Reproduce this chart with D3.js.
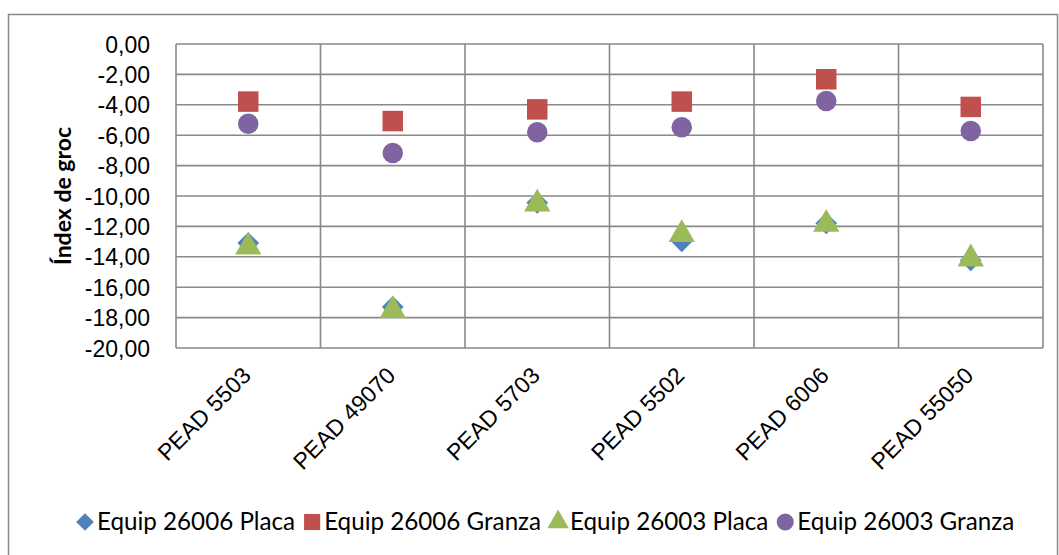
<!DOCTYPE html>
<html>
<head>
<meta charset="utf-8">
<script src="https://cdn.jsdelivr.net/npm/d3@7"></script>
<style>
  html, body { margin: 0; padding: 0; background: #fff; }
  svg { display: block; font-family: Lato, "Noto Sans", sans-serif; }
</style>
</head>
<body>
<svg id="chart" width="1059" height="555"></svg>
<script>
// Yellowness index per PEAD grade, measured on two instruments, plate vs pellet
const categories = ["PEAD 5503", "PEAD 49070", "PEAD 5703", "PEAD 5502", "PEAD 6006", "PEAD 55050"];
const placa26006  = [-13.1, -17.3, -10.45, -12.98, -11.8, -14.23];
const granza26006 = [-3.79, -5.07, -4.30, -3.79, -2.32, -4.14];
const placa26003  = [-13.22, -17.4, -10.39, -12.39, -11.72, -14.0];
const granza26003 = [-5.24, -7.17, -5.81, -5.48, -3.75, -5.72];
const yTicks = [0, -2, -4, -6, -8, -10, -12, -14, -16, -18, -20];
const seriesNames = ["Equip 26006 Placa", "Equip 26006 Granza", "Equip 26003 Placa", "Equip 26003 Granza"];

const series = [
  { name: seriesNames[0], values: placa26006,  color: "#4F81BD", symbol: d3.symbolDiamond2 },
  { name: seriesNames[1], values: granza26006, color: "#C0504D", symbol: d3.symbolSquare },
  { name: seriesNames[2], values: placa26003,  color: "#9BBB59", symbol: d3.symbolTriangle },
  { name: seriesNames[3], values: granza26003, color: "#8064A2", symbol: d3.symbolCircle }
];

const svg = d3.select("#chart");
const plot = { left: 176, right: 1043, top: 44, bottom: 348 };
const gridColor = "#898989";

// outer chart frame
svg.append("rect")
  .attr("x", 8.5).attr("y", 14.5)
  .attr("width", 1049).attr("height", 560)
  .attr("fill", "none").attr("stroke", gridColor).attr("stroke-width", 1.5);

const x = d3.scaleBand().domain(categories).range([plot.left, plot.right]).padding(0);
const y = d3.scaleLinear().domain([-20, 0]).range([plot.bottom, plot.top]);

// horizontal gridlines + left labels
const yAxis = d3.axisLeft(y).tickValues(yTicks).tickSize(0).tickPadding(0)
  .tickFormat(d => d3.format(".2f")(d).replace("−", "-").replace(".", ","));
const gy = svg.append("g").attr("transform", `translate(150,0)`).call(yAxis);
gy.select(".domain").remove();
gy.selectAll("text").attr("font-size", 23).attr("fill", "#000").attr("dy", "0.35em");

svg.append("g").selectAll("line").data(yTicks).join("line")
  .attr("x1", plot.left).attr("x2", plot.right)
  .attr("y1", d => y(d)).attr("y2", d => y(d))
  .attr("stroke", gridColor).attr("stroke-width", 1.6);

// vertical gridlines at category boundaries
const bounds = categories.map(c => x(c)).concat([plot.right]);
svg.append("g").selectAll("line").data(bounds).join("line")
  .attr("x1", d => d).attr("x2", d => d)
  .attr("y1", plot.top).attr("y2", plot.bottom)
  .attr("stroke", gridColor).attr("stroke-width", 1.6);

// rotated category labels
const xAxis = d3.axisBottom(x).tickSize(0).tickPadding(0);
const gx = svg.append("g").attr("transform", `translate(0,${plot.bottom})`).call(xAxis);
gx.select(".domain").remove();
gx.selectAll("text")
  .attr("font-size", 23).attr("fill", "#000")
  .attr("text-anchor", "end")
  .attr("y", 0).attr("dy", 0)
  .attr("transform", "translate(4,29) rotate(-45)");

// y-axis title
svg.append("text")
  .attr("transform", `translate(71,196) rotate(-90)`)
  .attr("text-anchor", "middle")
  .attr("font-size", 23).attr("font-weight", "bold")
  .text("Índex de groc");

// markers
const sizes = { 0: 300, 1: 420, 2: 300, 3: 330 };
series.forEach((s, i) => {
  const sym = d3.symbol().type(s.symbol).size(sizes[i]);
  svg.append("g").selectAll("path").data(s.values).join("path")
    .attr("d", sym)
    .attr("transform", (d, j) => `translate(${x(categories[j]) + x.bandwidth() / 2},${y(d) + (i === 2 ? 2 : 0)})`)
    .attr("fill", s.color);
});

// legend
const legend = svg.append("g").attr("font-size", 24.2);
const legendSizes = { 0: 200, 1: 260, 2: 200, 3: 230 };
const ly = 522;
let lx = 76;
series.forEach((s, i) => {
  const g = legend.append("g");
  g.append("path")
    .attr("d", d3.symbol().type(s.symbol).size(legendSizes[i]))
    .attr("transform", `translate(${lx + 9},${ly})`)
    .attr("fill", s.color);
  const t = g.append("text").attr("x", lx + 21).attr("y", ly).attr("dy", "0.35em").text(s.name);
  lx += 21 + t.node().getComputedTextLength() + 8;
});
</script>
</body>
</html>
